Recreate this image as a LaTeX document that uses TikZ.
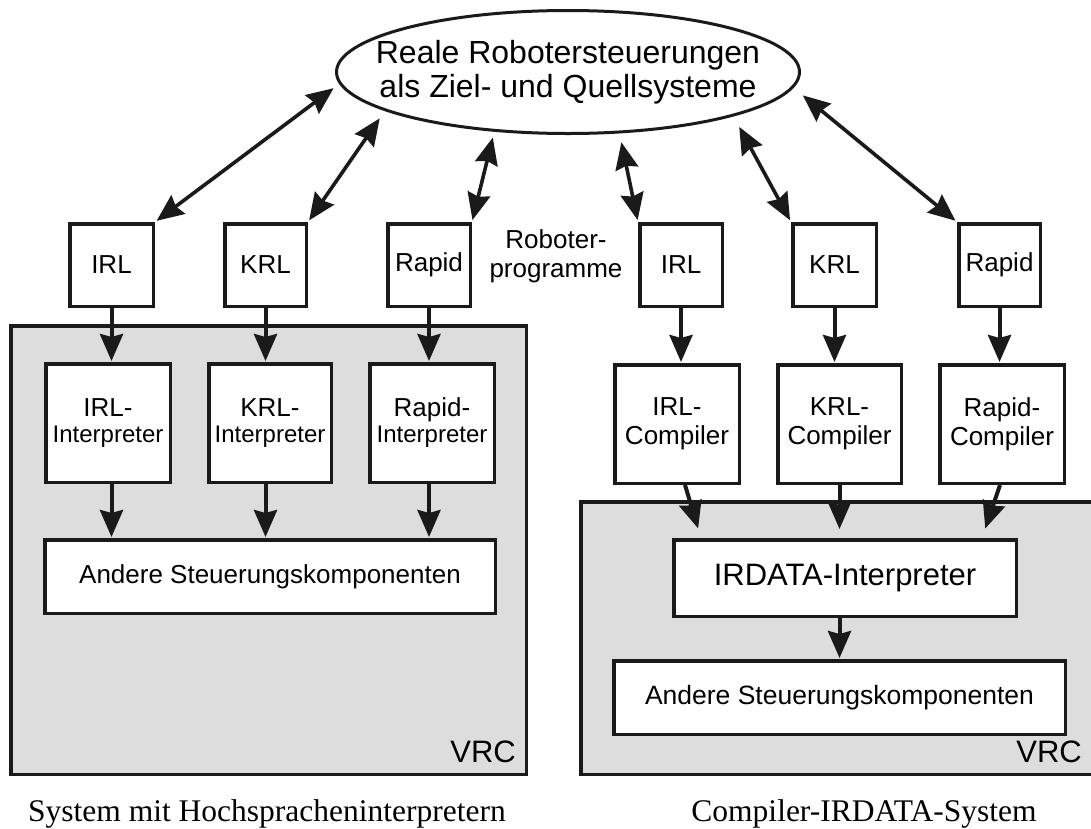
\documentclass[tikz,border=0pt]{standalone}
\usepackage{fontspec}
\setmainfont{Liberation Serif}
\setsansfont{Liberation Sans}
\usetikzlibrary{arrows.meta,shapes.geometric}
\definecolor{vrcfill}{RGB}{221,221,221}
\definecolor{ink}{RGB}{26,26,26}
\tikzset{
  tipshape/.tip={Stealth[length=27pt,width=23pt,inset=3pt]},
  box/.style={draw=ink, line width=3.5pt, fill=white, inner sep=0pt, align=center,
    font=\sffamily\fontsize{26}{29}\selectfont},
  area/.style={draw=ink, line width=3.5pt, fill=vrcfill, inner sep=0pt},
  arr/.style={draw=ink, line width=4pt, -tipshape},
  darr/.style={draw=ink, line width=3.6pt, tipshape-tipshape},
  interp/.style={font=\fontsize{24}{26}\selectfont},
  vrclabel/.style={anchor=base east, inner sep=0pt, font=\sffamily\fontsize{31}{31}\selectfont},
  caption/.style={anchor=base, inner sep=0pt, font=\fontsize{31.5}{32}\selectfont},
}
\begin{document}
\begin{tikzpicture}[x=1pt, y=-1pt]
\useasboundingbox (0,0) rectangle (1091,828);

% controller frames
\node[area, minimum width=515.5, minimum height=448.5] (vrcL) at (268.5,550) {};
\node[area, minimum width=513.5, minimum height=272.5] (vrcR) at (837.5,638) {};

% robot controllers
\node[draw=ink, line width=3pt, ellipse, inner xsep=-30pt, inner ysep=-12pt,
  minimum width=463, minimum height=123,
  align=center, font=\sffamily\fontsize{32}{34}\selectfont] (ell) at (568,72)
  {Reale Robotersteuerungen\\als Ziel- und Quellsysteme};

% robot programs, left
\node[box, minimum width=83.5, minimum height=82.5] (irlL) at (111.5,265) {IRL};
\node[box, minimum width=81.5, minimum height=82.5] (krlL) at (265.5,265) {KRL};
\node[box, minimum width=82.5, minimum height=82.5] (rapL) at (429,265) {Rapid};

% robot programs, right
\node[box, minimum width=82.5, minimum height=82.5] (irlR) at (681,265) {IRL};
\node[box, minimum width=83.5, minimum height=82.5] (krlR) at (834.5,265) {KRL};
\node[box, minimum width=81.5, minimum height=82.5] (rapR) at (999.5,265) {Rapid};

\node[inner sep=0pt, align=center, font=\sffamily\fontsize{26}{29}\selectfont] (progs)
  at (556,256) {Roboter-\\programme};

% interpreters
\node[box, minimum width=124.5, minimum height=118.5] (irlI) at (108,423)
  {IRL-\\[-3pt]{\fontsize{24}{26}\selectfont Interpreter}};
\node[box, minimum width=122.5, minimum height=118.5] (krlI) at (270,423)
  {KRL-\\[-3pt]{\fontsize{24}{26}\selectfont Interpreter}};
\node[box, minimum width=124.5, minimum height=118.5] (rapI) at (432,423)
  {Rapid-\\[-3pt]{\fontsize{24}{26}\selectfont Interpreter}};
\node[box, minimum width=450.5, minimum height=73.5] (andL) at (270,576.5)
  {Andere Steuerungskomponenten};

% compilers
\node[box, minimum width=124.5, minimum height=118.5] (irlC) at (677,424) {IRL-\\Compiler};
\node[box, minimum width=123.5, minimum height=118.5] (krlC) at (839.5,424) {KRL-\\Compiler};
\node[box, minimum width=124.5, minimum height=118.5] (rapC) at (1002,424) {Rapid-\\Compiler};
\node[box, minimum width=342.5, minimum height=76.5, font=\sffamily\fontsize{31}{31}\selectfont]
  (irdata) at (845,578) {IRDATA-Interpreter};
\node[box, minimum width=451.5, minimum height=73.5, font=\sffamily\fontsize{26.5}{29}\selectfont]
  (andR) at (839.5,697.5) {Andere Steuerungskomponenten};

\node[vrclabel] (vrcLtxt) at (516,762) {VRC};
\node[vrclabel] (vrcRtxt) at (1082,762) {VRC};

\node[caption] (capL) at (267,821) {System mit Hochspracheninterpretern};
\node[caption] (capR) at (864,821) {Compiler-IRDATA-System};

% exchange with the real controllers
\draw[darr, shorten <=2pt, shorten >=7pt] (irlL.north east) -- (ell.183);
\draw[darr, shorten <=2pt, shorten >=9pt] (krlL.north east) -- (ell.192);
\draw[darr, shorten <=2pt, shorten >=6pt] (rapL.north east) -- (ell.219);
\draw[darr, shorten <=2pt, shorten >=9pt] (irlR.north west) -- (ell.310);
\draw[darr, shorten <=2pt, shorten >=12pt] (krlR.north west) -- (ell.345);
\draw[darr, shorten <=2pt, shorten >=12pt] (rapR.north west) -- (ell.356);

% interpreter path
\draw[arr, shorten >=1pt] (irlL.south) -- (irlL.south |- irlI.north);
\draw[arr, shorten >=1pt] (krlL.south) -- (krlL.south |- krlI.north);
\draw[arr, shorten >=1pt] (rapL.south) -- (rapL.south |- rapI.north);
\draw[arr, shorten >=1pt] (irlL |- irlI.south) -- (irlL |- andL.north);
\draw[arr, shorten >=1pt] (krlL |- krlI.south) -- (krlL |- andL.north);
\draw[arr, shorten >=1pt] (rapL |- rapI.south) -- (rapL |- andL.north);

% compiler path
\draw[arr, shorten >=1pt] (irlR.south) -- (irlR.south |- irlC.north);
\draw[arr, shorten >=1pt] (krlR.south) -- (krlR.south |- krlC.north);
\draw[arr, shorten >=1pt] (rapR.south) -- (rapR.south |- rapC.north);
\draw[arr, shorten >=10pt] ([xshift=8pt]irlC.south) -- ([xshift=-144pt]irdata.north);
\draw[arr, shorten >=9pt] (krlC.south) -- (krlC.south |- irdata.north);
\draw[arr, shorten >=10pt] ([xshift=-2pt]rapC.south) -- ([xshift=137pt]irdata.north);
\draw[arr, shorten >=1pt] (andR |- irdata.south) -- (andR.north);
\end{tikzpicture}
\end{document}
